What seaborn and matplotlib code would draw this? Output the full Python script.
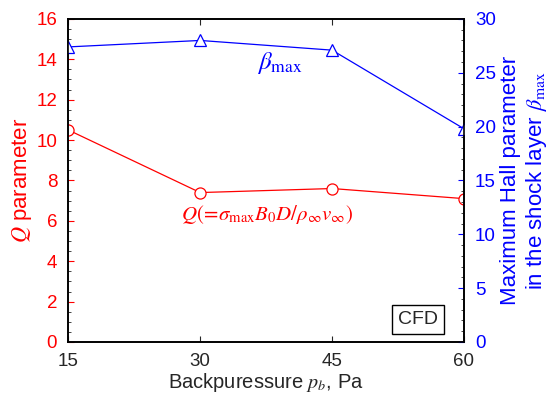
import pandas as pd
import matplotlib.pyplot as plt
import seaborn as sns
from matplotlib.ticker import MultipleLocator

pressure = [15, 30, 45, 60]
q_param = [10.5, 7.4, 7.6, 7.1]
beta_max = [27.4, 28.0, 27.1, 19.8]

df = pd.DataFrame({'pb': pressure, 'Q': q_param, 'beta': beta_max})

sns.set_style('ticks')
plt.rcParams['font.family'] = ['Liberation Sans', 'DejaVu Sans']
plt.rcParams['mathtext.fontset'] = 'stix'
plt.rcParams['xtick.direction'] = 'in'
plt.rcParams['ytick.direction'] = 'in'

fig, ax = plt.subplots(figsize=(5.55, 3.94), dpi=100)
ax2 = ax.twinx()

sns.lineplot(data=df, x='pb', y='Q', ax=ax, color='red', lw=0.9,
             marker='o', markersize=8, markerfacecolor='white',
             markeredgecolor='red', markeredgewidth=0.9)
sns.lineplot(data=df, x='pb', y='beta', ax=ax2, color='blue', lw=0.9,
             marker='^', markersize=8, markerfacecolor='white',
             markeredgecolor='blue', markeredgewidth=0.9)

ax.set_xlim(15, 60)
ax.set_ylim(0, 16)
ax2.set_ylim(0, 30)
ax.set_xticks(pressure)
ax.yaxis.set_major_locator(MultipleLocator(2))
ax.yaxis.set_minor_locator(MultipleLocator(0.5))
ax2.yaxis.set_major_locator(MultipleLocator(5))
ax2.yaxis.set_minor_locator(MultipleLocator(1))
for a in (ax, ax2):
    for s in a.spines.values():
        s.set_visible(True)
        s.set_linewidth(1.2)
        s.set_color('black')
ax.tick_params(axis='x', top=True, labelsize=13.5, length=4, pad=8)
ax.tick_params(axis='y', which='major', colors='red', labelsize=13.5, length=4, pad=8)
ax.tick_params(axis='y', which='minor', length=2)
ax2.tick_params(axis='y', which='major', colors='blue', labelsize=13.5, length=4, pad=8)
ax2.tick_params(axis='y', which='minor', length=2)
for t in ax.get_yticklines() + ax.yaxis.get_minorticklines():
    t.set_color('black')
for t in ax2.get_yticklines() + ax2.yaxis.get_minorticklines():
    t.set_color('black')

ax.set_xlabel('Backpuressure $p_b$, Pa', fontsize=14.5, labelpad=0.5)
ax.set_ylabel('$Q$ parameter', fontsize=16, color='red')
ax.yaxis.set_label_coords(-0.087, 0.5)
ax2.set_ylabel('Maximum Hall parameter\nin the shock layer $\\beta_{\\rm max}$',
               fontsize=16, color='blue', linespacing=1.2)
ax2.yaxis.set_label_coords(1.09, 0.5)

ax.text(37.6, 6.3, r'$Q(\!=\!\sigma_{\rm max}B_0D/\rho_\infty v_\infty)$',
        color='red', fontsize=15, ha='center', va='center')
ax2.text(39.0, 25.9, r'$\beta_{\rm max}$', color='blue', fontsize=18,
         ha='center', va='center')
ax.text(54.8, 1.1, 'CFD', fontsize=14, ha='center', va='center',
        bbox=dict(boxstyle='square,pad=0.3', fc='white', ec='black', lw=1))

fig.subplots_adjust(left=0.123, right=0.836, top=0.952, bottom=0.132)
fig.savefig('out.png', dpi=100)
